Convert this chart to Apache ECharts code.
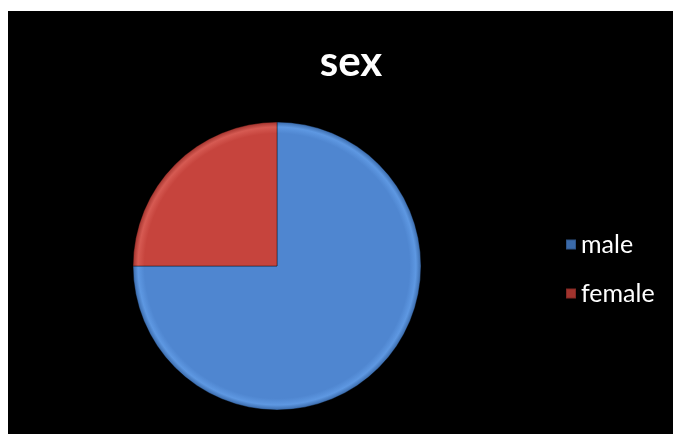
<!DOCTYPE html>
<html><head><meta charset="utf-8">
<script src="https://cdn.jsdelivr.net/npm/echarts@6/dist/echarts.min.js"></script>
<style>
html,body{margin:0;padding:0;background:#fff;}
#c{position:absolute;left:0;top:0;width:673px;height:434px;}
</style></head>
<body><div id="c"></div>
<script>
const titleText = 'sex';
const categories = ['male', 'female'];
const values = [75, 25];
const colors = ['#4F86D0', '#C9463F'];

const chart = echarts.init(document.getElementById('c'), null, {renderer: 'canvas'});
const CX = 277, CY = 266, R = 144;
const grad = (c, light, dark) => ({
  type: 'radial', x: CX, y: CY, r: R, global: true,
  colorStops: [{offset: 0, color: c}, {offset: 0.92, color: c}, {offset: 0.965, color: light}, {offset: 1, color: dark}]
});
chart.setOption({
  backgroundColor: '#fff',
  graphic: [{type: 'rect', z: -10, silent: true, shape: {x: 8, y: 11, width: 665, height: 423}, style: {fill: '#000'}}],
  title: {
    text: titleText, left: 346, top: 36, textAlign: 'center',
    textStyle: {color: '#fff', fontFamily: 'Lato', fontWeight: 'bold', fontSize: 42}
  },
  legend: {
    orient: 'vertical', left: 560, top: 227, itemGap: 24, itemWidth: 10, itemHeight: 10,
    icon: 'rect',
    data: categories,
    textStyle: {color: '#fff', fontFamily: 'Lato', fontSize: 25, padding: [0, 0, 0, 0]}
  },
  series: [{
    type: 'pie', center: [CX, CY], radius: R, startAngle: 90, clockwise: true,
    label: {show: false}, labelLine: {show: false},
    emphasis: {disabled: true},
    itemStyle: {borderColor: 'rgba(0,0,0,0.2)', borderWidth: 1},
    data: categories.map((n, i) => ({
      name: n, value: values[i],
      itemStyle: {color: i === 0 ? grad('#4F86D0', '#5E98E2', '#3A6AAA') : grad('#C6443D', '#D65A52', '#A2332D')}
    }))
  }],
  color: colors
});
</script></body></html>
